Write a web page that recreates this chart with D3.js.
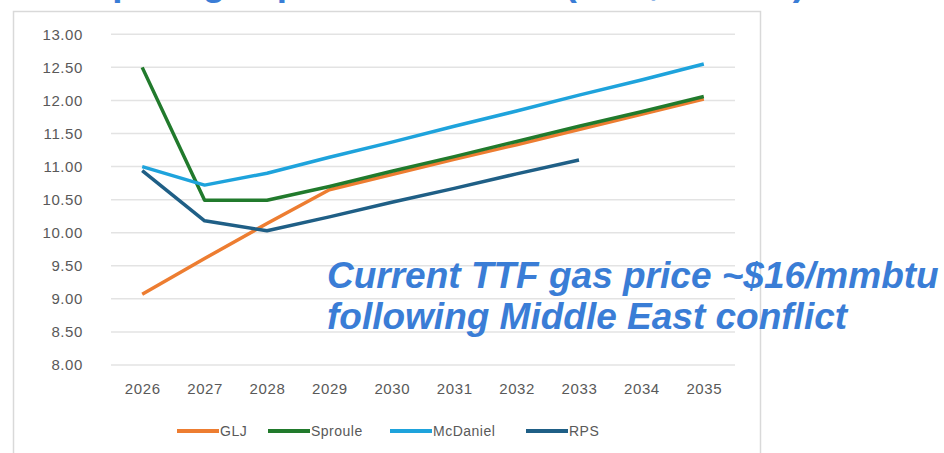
<!DOCTYPE html>
<html>
<head>
<meta charset="utf-8">
<script src="https://cdn.jsdelivr.net/npm/d3@7"></script>
<style>
  body { margin: 0; background: #fff; }
  svg { display: block; }
</style>
</head>
<body>
<svg id="chart" width="944" height="453"></svg>
<script>
// years on the x axis
var years = ["2026", "2027", "2028", "2029", "2030", "2031", "2032", "2033", "2034", "2035"];
var yTicks = [8, 8.5, 9, 9.5, 10, 10.5, 11, 11.5, 12, 12.5, 13];

// forecasts
var glj      = [9.07, 9.61, 10.14, 10.65, 10.88, 11.11, 11.33, 11.56, 11.79, 12.02];
var sproule  = [12.50, 10.49, 10.49, 10.70, 10.93, 11.15, 11.38, 11.61, 11.83, 12.06];
var mcdaniel = [11.00, 10.72, 10.90, 11.14, 11.37, 11.61, 11.84, 12.08, 12.31, 12.55];
var rps      = [10.94, 10.18, 10.03, 10.24, 10.46, 10.67, 10.89, 11.10];

var seriesNames = ["GLJ", "Sproule", "McDaniel", "RPS"];
var seriesValues = [glj, sproule, mcdaniel, rps];
var colors = ["#ed7d31", "#217a2c", "#1ea3dc", "#1f5f86"];

var svg = d3.select("#chart");
var blue = "#3a7dd6";

// title, mostly cut off at the top of the picture
svg.append("text")
  .attr("x", 30)
  .attr("y", -5)
  .attr("font-family", "Liberation Sans, Arial, sans-serif")
  .attr("font-weight", "bold")
  .attr("font-size", 37)
  .attr("fill", blue)
  .text("Comparing expectations 2026 (US$, mmbtu)");

// chart frame
svg.append("rect")
  .attr("x", 13.5)
  .attr("y", 11.5)
  .attr("width", 747)
  .attr("height", 470)
  .attr("fill", "#fff")
  .attr("stroke", "#d9d9d9")
  .attr("stroke-width", 1.5);

var x = d3.scalePoint()
  .domain(years)
  .range([111, 735])
  .padding(0.5);

var y = d3.scaleLinear()
  .domain([8, 13])
  .range([365, 34.3]);

// gridlines
svg.append("g")
  .selectAll("line")
  .data(yTicks)
  .enter()
  .append("line")
  .attr("x1", 111)
  .attr("x2", 735)
  .attr("y1", function(d) { return y(d); })
  .attr("y2", function(d) { return y(d); })
  .attr("stroke", "#e3e3e3")
  .attr("stroke-width", 1.5);

// y axis labels
var yAxis = d3.axisLeft(y)
  .tickValues(yTicks)
  .tickSize(0)
  .tickPadding(0)
  .tickFormat(d3.format(".2f"));

svg.append("g")
  .attr("transform", "translate(83,0)")
  .call(yAxis)
  .call(function(g) { g.select(".domain").remove(); })
  .selectAll("text")
  .attr("font-family", "Liberation Sans, Arial, sans-serif")
  .attr("font-size", 15)
  .attr("letter-spacing", 0.6)
  .attr("fill", "#595959");

// x axis labels
var xAxis = d3.axisBottom(x)
  .tickSize(0)
  .tickPadding(0);

svg.append("g")
  .attr("transform", "translate(0,383)")
  .call(xAxis)
  .call(function(g) { g.select(".domain").remove(); })
  .selectAll("text")
  .attr("font-family", "Liberation Sans, Arial, sans-serif")
  .attr("font-size", 15)
  .attr("letter-spacing", 0.6)
  .attr("fill", "#595959");

// lines
var line = d3.line()
  .x(function(d, i) { return x(years[i]); })
  .y(function(d) { return y(d); });

seriesValues.forEach(function(vals, i) {
  svg.append("path")
    .datum(vals)
    .attr("d", line)
    .attr("fill", "none")
    .attr("stroke", colors[i])
    .attr("stroke-width", 3.5)
    .attr("stroke-linejoin", "round");
});

// legend
var legendX = [177, 268, 390, 526];
var legend = svg.append("g");
seriesNames.forEach(function(name, i) {
  legend.append("line")
    .attr("x1", legendX[i])
    .attr("x2", legendX[i] + 42)
    .attr("y1", 431)
    .attr("y2", 431)
    .attr("stroke", colors[i])
    .attr("stroke-width", 4);
  legend.append("text")
    .attr("x", legendX[i] + 43)
    .attr("y", 436)
    .attr("font-family", "Liberation Sans, Arial, sans-serif")
    .attr("font-size", 14)
    .attr("letter-spacing", 0.5)
    .attr("fill", "#595959")
    .text(name);
});

// annotation
var note = svg.append("text")
  .attr("font-family", "Liberation Sans, Arial, sans-serif")
  .attr("font-weight", "bold")
  .attr("font-style", "italic")
  .attr("font-size", 37)
  .attr("fill", blue);
note.append("tspan").attr("x", 327).attr("y", 288).text("Current TTF gas price ~$16/mmbtu");
note.append("tspan").attr("x", 327).attr("y", 329).text("following Middle East conflict");
</script>
</body>
</html>
